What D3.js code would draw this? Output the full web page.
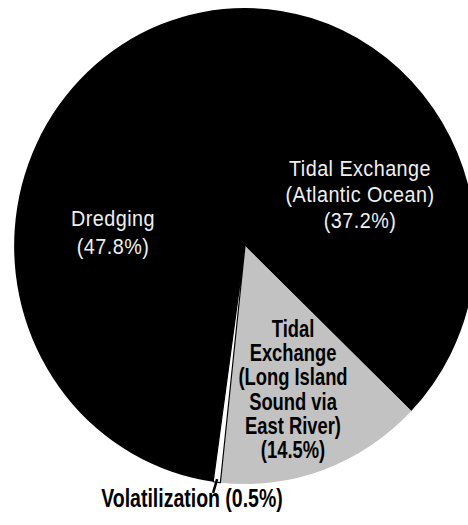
<!DOCTYPE html>
<html>
<head>
<meta charset="utf-8">
<script src="https://cdn.jsdelivr.net/npm/d3@7"></script>
<style>
  html, body { margin: 0; padding: 0; background: #fff; }
  svg { display: block; }
</style>
</head>
<body>
<script>
// ---- data ----
const categories = [
  "Tidal Exchange (Atlantic Ocean)",
  "Tidal Exchange (Long Island Sound via East River)",
  "Volatilization",
  "Dredging"
];
const values = [37.2, 14.5, 0.5, 47.8];
const labelLines = [
  ["Tidal Exchange", "(Atlantic Ocean)", "(37.2%)"],
  ["Tidal", "Exchange", "(Long Island", "Sound via", "East River)", "(14.5%)"],
  ["Volatilization (0.5%)"],
  ["Dredging", "(47.8%)"]
];
const colors = ["#000000", "#c2c2c2", "#ffffff", "#000000"];

// ---- layout ----
const W = 468, H = 525;
const cx = 245, cy = 246, R = 238, sx = 0.97;

const svg = d3.select("body").append("svg")
  .attr("width", W).attr("height", H);
svg.append("rect").attr("width", W).attr("height", H).attr("fill", "#fff");

const pie = d3.pie().sort(null).value(d => d).startAngle(0).endAngle(2 * Math.PI);
const arcs = pie(values);
const arc = d3.arc().innerRadius(0).outerRadius(R);

const g = svg.append("g").attr("transform", `translate(${cx},${cy}) scale(${sx},1)`);

g.selectAll("path.slice")
  .data(arcs)
  .join("path")
  .attr("class", "slice")
  .attr("d", arc)
  .attr("fill", (d, i) => colors[i])
  .attr("stroke", (d, i) => i === 2 ? "#000" : "none")
  .attr("stroke-width", 1.2);

// leader line for Volatilization
const v = arcs[2];
const mid = (v.startAngle + v.endAngle) / 2;
const p0 = d3.arc().innerRadius(R - 3).outerRadius(R - 3).centroid(v);
const p1 = d3.arc().innerRadius(R + 11).outerRadius(R + 11).centroid({startAngle: mid + 0.01, endAngle: mid + 0.01});
g.append("line")
  .attr("x1", p0[0]).attr("y1", p0[1])
  .attr("x2", p1[0]).attr("y2", p1[1])
  .attr("stroke", "#000").attr("stroke-width", 2.6);

// ---- labels ----
const lightFont = "'Liberation Sans', Arial, sans-serif";
const boldFont = "'Liberation Sans', Arial, sans-serif";

function block(lines, x, y0, dy, opts) {
  const grp = svg.append("g")
    .attr("transform", `translate(${x},0) scale(${opts.squeeze || 1},1)`);
  const t = grp.append("text")
    .attr("text-anchor", "middle")
    .attr("font-family", opts.family)
    .attr("font-size", opts.size)
    .attr("font-weight", opts.weight)
    .attr("fill", opts.fill)
    .attr("letter-spacing", opts.ls || 0);
  lines.forEach((s, i) => {
    t.append("tspan").attr("x", 0).attr("y", y0 + i * dy).text(s);
  });
}

const light = {family: lightFont, size: 22, weight: 400, fill: "#f0f0f0", ls: 0.5, squeeze: 0.9};
const bold = {family: boldFont, size: 24.5, weight: 700, fill: "#000", ls: 0, squeeze: 0.75};

block(labelLines[0], 360, 176, 26, light);
block(labelLines[3], 113, 226, 28, light);
block(labelLines[1], 293, 337, 24.2, bold);
block(labelLines[2], 192, 507, 0, Object.assign({}, bold, {size: 25, squeeze: 0.78}));
</script>
</body>
</html>
